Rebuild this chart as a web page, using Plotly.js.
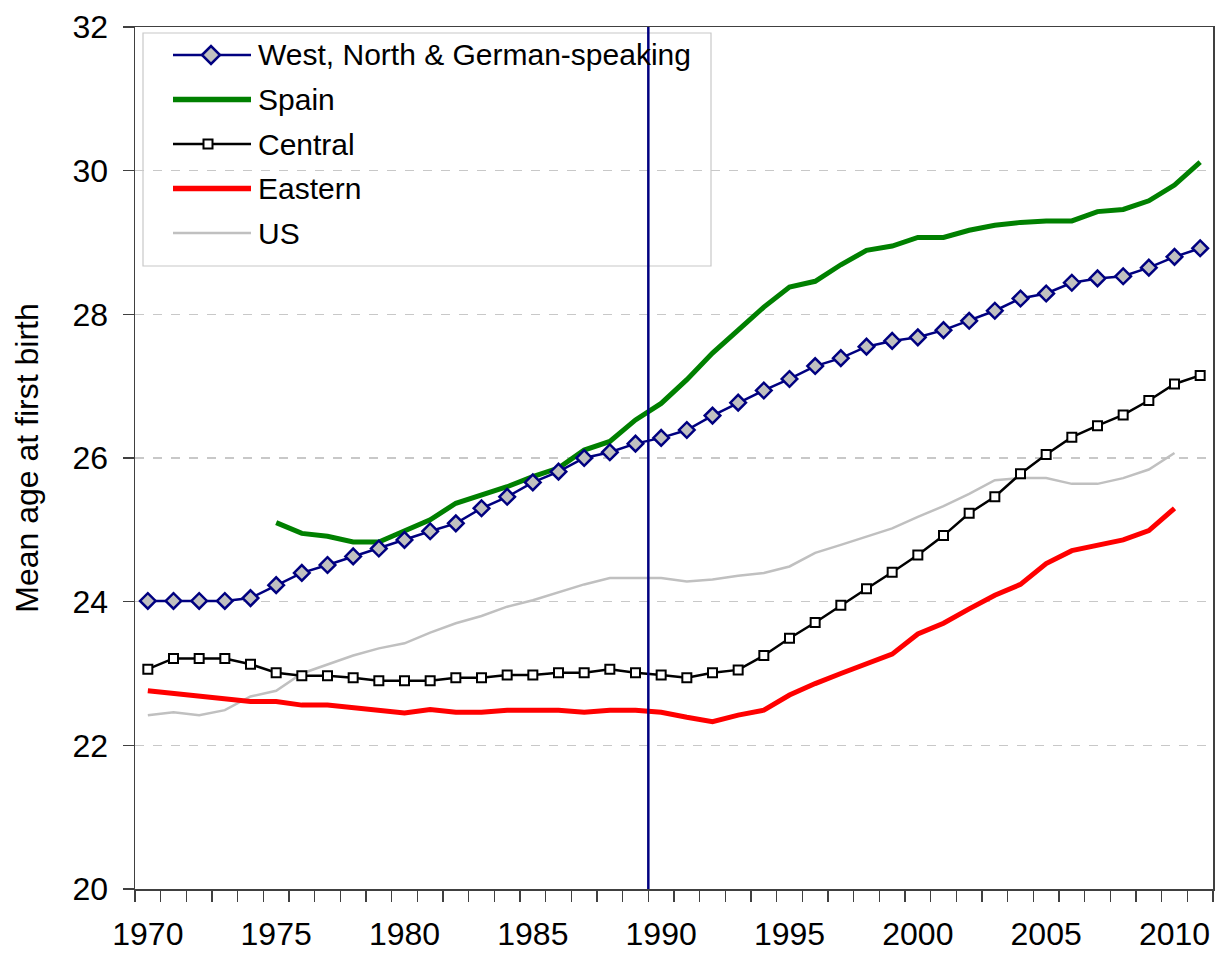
<!DOCTYPE html>
<html>
<head>
<meta charset="utf-8">
<script src="https://cdn.plot.ly/plotly-3.0.1.min.js"></script>
<style>
  body { margin: 0; background: #fff; }
  #chart { width: 1219px; height: 955px; }
</style>
</head>
<body>
<div id="chart"></div>
<script>
// mean age at first birth, 1970-2011
var years = [];
for (var y = 1970; y <= 2011; y++) years.push(y);

var west = [24.01, 24.01, 24.01, 24.01, 24.05, 24.23, 24.40, 24.51, 24.63, 24.74,
            24.86, 24.98, 25.09, 25.30, 25.46, 25.66, 25.81, 26.00, 26.08, 26.20,
            26.28, 26.39, 26.59, 26.77, 26.94, 27.10, 27.28, 27.39, 27.55, 27.63,
            27.68, 27.78, 27.91, 28.05, 28.22, 28.29, 28.44, 28.50, 28.53, 28.65,
            28.80, 28.92];
var spain = [null, null, null, null, null, 25.10, 24.95, 24.91, 24.83, 24.83,
             24.98, 25.14, 25.37, 25.49, 25.60, 25.74, 25.86, 26.11, 26.23, 26.53,
             26.76, 27.09, 27.46, 27.78, 28.10, 28.38, 28.46, 28.69, 28.89, 28.95,
             29.07, 29.07, 29.17, 29.24, 29.28, 29.30, 29.30, 29.43, 29.46, 29.58,
             29.80, 30.12];
var central = [23.06, 23.21, 23.21, 23.21, 23.13, 23.01, 22.97, 22.97, 22.94, 22.90,
               22.90, 22.90, 22.94, 22.94, 22.98, 22.98, 23.01, 23.01, 23.06, 23.01,
               22.98, 22.94, 23.01, 23.05, 23.25, 23.49, 23.71, 23.95, 24.18, 24.41,
               24.65, 24.92, 25.23, 25.46, 25.78, 26.05, 26.29, 26.45, 26.60, 26.80,
               27.03, 27.15];
var eastern = [22.76, 22.72, 22.68, 22.64, 22.61, 22.61, 22.56, 22.56, 22.52, 22.48,
               22.45, 22.50, 22.46, 22.46, 22.49, 22.49, 22.49, 22.46, 22.49, 22.49,
               22.46, 22.39, 22.33, 22.42, 22.49, 22.70, 22.86, 23.00, 23.14, 23.27,
               23.55, 23.70, 23.90, 24.09, 24.24, 24.53, 24.71, 24.78, 24.86, 24.99,
               25.30, null];
var us = [22.42, 22.46, 22.42, 22.49, 22.68, 22.76, 23.00, 23.12, 23.25, 23.35,
          23.42, 23.57, 23.70, 23.80, 23.93, 24.02, 24.13, 24.24, 24.33, 24.33,
          24.33, 24.28, 24.31, 24.36, 24.40, 24.49, 24.68, 24.79, 24.91, 25.02,
          25.18, 25.33, 25.50, 25.69, 25.72, 25.72, 25.64, 25.64, 25.72, 25.84,
          26.07, null];

var labelYears = [1970, 1975, 1980, 1985, 1990, 1995, 2000, 2005, 2010];
var yTicks = [20, 22, 24, 26, 28, 30, 32];
var markerYear = 1989.5;   // the vertical divider

var seriesNames = ["West, North & German-speaking", "Spain", "Central", "Eastern", "US"];
var seriesColors = ["#000080", "#008000", "#000000", "#ff0000", "#c0c0c0"];
var seriesWidths = [2.5, 5, 2.5, 5, 2.5];

// tick marks sit between the years, like a category axis
var boundaries = years.map(function (v) { return v - 0.5; });
boundaries.push(years[years.length - 1] + 0.5);

var font = "Liberation Sans, Arial, sans-serif";
var W = 1219, H = 955;
var M = {l: 135, r: 6, t: 27, b: 66};
var plotW = W - M.l - M.r, plotH = H - M.t - M.b;
function px(x) { return (x - M.l) / plotW; }
function py(y) { return (H - M.b - y) / plotH; }

// drawing order: grey US at the back, West on top
var data = [
  {x: years, y: us, name: seriesNames[4], type: "scatter", mode: "lines",
   line: {color: seriesColors[4], width: seriesWidths[4]}},
  {x: years, y: eastern, name: seriesNames[3], type: "scatter", mode: "lines",
   line: {color: seriesColors[3], width: seriesWidths[3]}},
  {x: years, y: central, name: seriesNames[2], type: "scatter", mode: "lines+markers",
   line: {color: seriesColors[2], width: seriesWidths[2]},
   marker: {symbol: "square", size: 9, color: "#ffffff", line: {color: "#000000", width: 2}}},
  {x: years, y: spain, name: seriesNames[1], type: "scatter", mode: "lines",
   line: {color: seriesColors[1], width: seriesWidths[1]}},
  {x: years, y: west, name: seriesNames[0], type: "scatter", mode: "lines+markers",
   line: {color: seriesColors[0], width: seriesWidths[0]},
   marker: {symbol: "diamond", size: 12, color: "#c0c0c0", line: {color: "#000080", width: 2.5}}}
];

// legend drawn by hand so the sample lines are as long as in the original
var shapes = [
  {type: "rect", xref: "paper", yref: "paper",
   x0: px(143), x1: px(711), y0: py(266), y1: py(33),
   line: {color: "#c8c8c8", width: 1.2}, fillcolor: "rgba(255,255,255,0)"}
];
var annotations = [];
seriesNames.forEach(function (name, i) {
  var rowY = 55 + i * 44.5;
  shapes.push({type: "line", xref: "paper", yref: "paper",
    x0: px(173), x1: px(251), y0: py(rowY), y1: py(rowY),
    line: {color: seriesColors[i], width: seriesWidths[i] + (seriesWidths[i] > 3 ? 0.5 : 0)}});
  annotations.push({xref: "paper", yref: "paper", x: px(256), y: py(rowY),
    xanchor: "left", yanchor: "middle", showarrow: false, text: name,
    font: {family: font, size: 30, color: "#000000"}});
});
// legend markers
shapes.push({type: "path", xref: "paper", yref: "paper",
  xsizemode: "pixel", ysizemode: "pixel", xanchor: px(211), yanchor: py(55),
  path: "M -9 0 L 0 9 L 9 0 L 0 -9 Z",
  fillcolor: "#c0c0c0", line: {color: "#000080", width: 2.5}});
shapes.push({type: "path", xref: "paper", yref: "paper",
  xsizemode: "pixel", ysizemode: "pixel", xanchor: px(208), yanchor: py(55 + 2 * 44.5),
  path: "M -4.5 -4.5 L 4.5 -4.5 L 4.5 4.5 L -4.5 4.5 Z",
  fillcolor: "#ffffff", line: {color: "#000000", width: 2}});

shapes.push({type: "line", xref: "x", yref: "paper",
  x0: markerYear, x1: markerYear, y0: 0, y1: 1,
  line: {color: "#000080", width: 2.5}});

var layout = {
  width: W,
  height: H,
  margin: M,
  paper_bgcolor: "#ffffff",
  plot_bgcolor: "#ffffff",
  font: {family: font, color: "#000000", size: 32},
  showlegend: false,
  xaxis: {
    range: [1969.5, 2011.5],
    tickmode: "array",
    tickvals: labelYears,
    ticktext: labelYears.map(String),
    ticks: "",
    ticklabelstandoff: 16,
    tickfont: {family: font, size: 32},
    minor: {
      tickmode: "array",
      tickvals: boundaries,
      ticks: "outside",
      ticklen: 11,
      tickwidth: 1.5,
      tickcolor: "#404040",
      showgrid: false
    },
    showgrid: false,
    zeroline: false,
    showline: true,
    linecolor: "#404040",
    linewidth: 1.5,
    mirror: true
  },
  yaxis: {
    range: [20, 32],
    tickmode: "array",
    tickvals: yTicks,
    ticks: "outside",
    ticklen: 11,
    tickwidth: 1.5,
    tickcolor: "#404040",
    ticklabelstandoff: 8,
    tickfont: {family: font, size: 32},
    showgrid: true,
    gridcolor: "#c8c8c8",
    gridwidth: 1.2,
    griddash: "dash",
    zeroline: false,
    showline: true,
    linecolor: "#404040",
    linewidth: 1.5,
    mirror: true,
    title: {
      text: "Mean age at first birth",
      font: {family: font, size: 32},
      standoff: 24
    }
  },
  shapes: shapes,
  annotations: annotations
};

Plotly.newPlot("chart", data, layout, {displayModeBar: false, staticPlot: true});
</script>
</body>
</html>
